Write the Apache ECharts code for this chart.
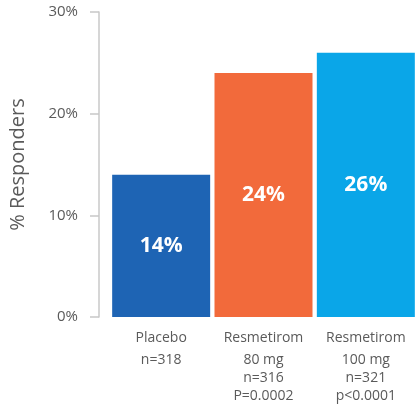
<!DOCTYPE html>
<html>
<head>
<meta charset="utf-8">
<style>
  html, body { margin: 0; padding: 0; background: #fff; overflow: hidden; }
  #chart { width: 417px; height: 412px; }
</style>
<script src="https://cdn.jsdelivr.net/npm/echarts@6/dist/echarts.min.js"></script>
</head>
<body>
<div id="chart"></div>
<script>
// Treatment arms and response rates
var armNames = ['Placebo', 'Resmetirom', 'Resmetirom'];
var armDetails = [['n=318'], ['80 mg', 'n=316', 'P=0.0002'], ['100 mg', 'n=321', 'p<0.0001']];
var responderPct = [14, 24, 26];
var barColors = ['#1e64b4', '#f26a3b', '#0aa6e8'];
var yTicks = [0, 10, 20, 30];

var FONT = '"Open Sans", sans-serif';
var GREY = '#5a5a5a';

var categories = armNames.map(function (name, i) {
  return '{a|' + name + '}\n' + armDetails[i].map(function (d) { return '{b|' + d + '}'; }).join('\n');
});

var chart = echarts.init(document.getElementById('chart'));
chart.setOption({
  animation: false,
  grid: { left: 108, right: -11, top: 12, bottom: 95, containLabel: false },
  xAxis: {
    type: 'category',
    data: categories,
    axisLine: { show: false },
    axisTick: { show: false },
    axisLabel: {
      margin: 8,
      interval: 0,
      rich: {
        a: { fontFamily: FONT, fontSize: 14, color: GREY, lineHeight: 26 },
        b: { fontFamily: FONT, fontSize: 14, color: GREY, lineHeight: 18 }
      }
    }
  },
  yAxis: {
    type: 'value',
    min: yTicks[0],
    max: yTicks[yTicks.length - 1],
    interval: yTicks[1] - yTicks[0],
    offset: 11,
    name: '% Responders',
    nameLocation: 'middle',
    nameRotate: 90,
    nameGap: 71,
    nameTextStyle: { fontFamily: FONT, fontSize: 20, color: GREY },
    axisLine: { show: true, lineStyle: { color: '#c8c8c8', width: 1.5 } },
    axisTick: { show: true, length: 9, lineStyle: { color: '#c8c8c8', width: 1.5 } },
    axisLabel: {
      margin: 21,
      formatter: '{value}%',
      fontFamily: FONT,
      fontSize: 15,
      color: GREY
    },
    splitLine: { show: false }
  },
  series: [{
    type: 'bar',
    barWidth: 98,
    data: responderPct.map(function (v, i) {
      return { value: v, itemStyle: { color: barColors[i] } };
    }),
    label: {
      show: true,
      position: 'inside',
      formatter: '{c}%',
      fontFamily: FONT,
      fontWeight: 'bold',
      fontSize: 21,
      color: '#ffffff'
    }
  }]
});
</script>
</body>
</html>
